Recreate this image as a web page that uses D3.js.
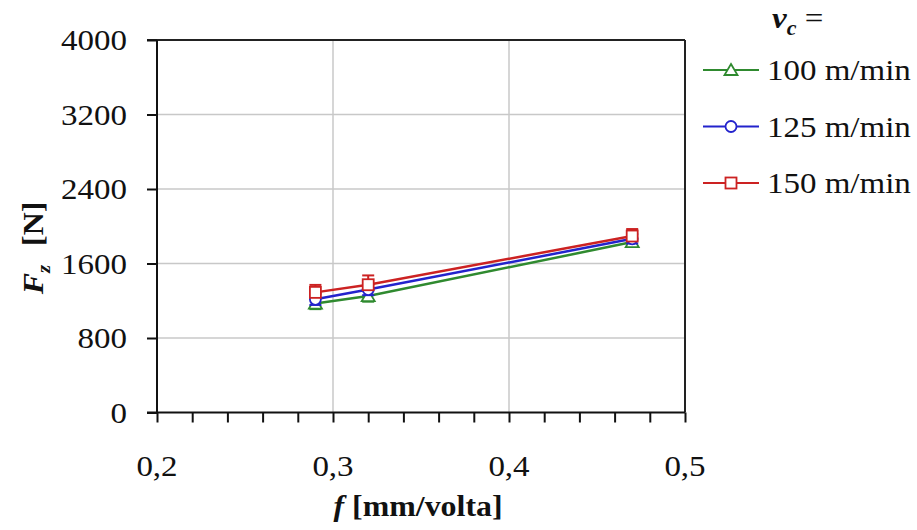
<!DOCTYPE html>
<html>
<head>
<meta charset="utf-8">
<script src="https://cdn.jsdelivr.net/npm/d3@7"></script>
<style>
  body { margin: 0; background: #fff; }
  text { font-family: 'Liberation Serif', 'DejaVu Serif', serif; }
</style>
</head>
<body>
<div id="chart"></div>
<script>
const feeds = [0.29, 0.32, 0.47];
const speedLabels = ['100 m/min', '125 m/min', '150 m/min'];
const fz100 = [1170, 1250, 1830];
const fz125 = [1215, 1320, 1865];
const fz150 = [1290, 1372, 1895];
const err100 = [60, 60, 50];
const err125 = [60, 60, 50];
const err150 = [80, 100, 75];
const xTicks = [0.2, 0.3, 0.4, 0.5];
const yTicks = [0, 800, 1600, 2400, 3200, 4000];

const FONT = "'Liberation Serif', 'DejaVu Serif', serif";
const SX = 1.1; // the original text is a little wide
const width = 917, height = 530;
const margin = { top: 40, right: 232, bottom: 117.5, left: 157 };
const innerW = width - margin.left - margin.right;
const innerH = height - margin.top - margin.bottom;

const svg = d3.select('#chart').append('svg')
  .attr('width', width)
  .attr('height', height)
  .attr('font-family', FONT);

const g = svg.append('g').attr('transform', `translate(${margin.left},${margin.top})`);

const x = d3.scaleLinear().domain([0.2, 0.5]).range([0, innerW]);
const y = d3.scaleLinear().domain([0, 4000]).range([innerH, 0]);

function at(px, py, rot) {
  return `translate(${px},${py})` + (rot ? ` rotate(${rot})` : '') + ` scale(${SX},1)`;
}

// grid
g.append('g')
  .selectAll('line')
  .data(yTicks.filter(d => d > 0 && d < 4000))
  .enter().append('line')
  .attr('x1', 0).attr('x2', innerW)
  .attr('y1', d => y(d)).attr('y2', d => y(d))
  .attr('stroke', '#c8c8c8').attr('stroke-width', 1.5);

g.append('g')
  .selectAll('line')
  .data(xTicks.filter(d => d > 0.2 && d < 0.5))
  .enter().append('line')
  .attr('x1', d => x(d)).attr('x2', d => x(d))
  .attr('y1', 0).attr('y2', innerH)
  .attr('stroke', '#c8c8c8').attr('stroke-width', 1.5);

// frame top / right
g.append('line').attr('x1', -10).attr('x2', innerW).attr('y1', 0).attr('y2', 0)
  .attr('stroke', '#222').attr('stroke-width', 2);
g.append('line').attr('x1', innerW).attr('x2', innerW).attr('y1', 0).attr('y2', innerH)
  .attr('stroke', '#222').attr('stroke-width', 2);

// axes
const xAxis = g.append('g')
  .attr('transform', `translate(0,${innerH})`)
  .call(d3.axisBottom(x).tickValues(d3.range(0, 16).map(i => 0.2 + i * 0.02)).tickSize(10).tickFormat(''));
const yAxis = g.append('g')
  .call(d3.axisLeft(y).tickValues(yTicks).tickSize(10).tickFormat(''));
[xAxis, yAxis].forEach(a => {
  a.select('.domain').attr('stroke', '#111').attr('stroke-width', 2);
  a.selectAll('.tick line').attr('stroke', '#111').attr('stroke-width', 2);
});
yAxis.select('.domain').attr('d', `M0,0V${innerH}`);
xAxis.select('.domain').attr('d', `M-10,0H${innerW}`);

// tick labels
g.selectAll('.xlab')
  .data(xTicks)
  .enter().append('text')
  .attr('class', 'xlab')
  .attr('transform', d => at(x(d), innerH + 63))
  .attr('text-anchor', 'middle')
  .attr('font-family', FONT)
  .attr('font-size', '30px')
  .attr('fill', '#111')
  .text(d => d3.format('.1f')(d).replace('.', ','));

g.selectAll('.ylab')
  .data(yTicks)
  .enter().append('text')
  .attr('class', 'ylab')
  .attr('transform', d => at(-30, y(d) + 10))
  .attr('text-anchor', 'end')
  .attr('font-family', FONT)
  .attr('font-size', '30px')
  .attr('fill', '#111')
  .text(d => d);

// axis titles
const xt = svg.append('text')
  .attr('transform', at(418, 516))
  .attr('text-anchor', 'middle')
  .attr('font-family', FONT)
  .attr('font-size', '29px')
  .attr('font-weight', 'bold')
  .attr('fill', '#111');
xt.append('tspan').attr('font-style', 'italic').text('f');
xt.append('tspan').text(' [mm/volta]');

const yt = svg.append('text')
  .attr('transform', at(43, 248, -90))
  .attr('text-anchor', 'middle')
  .attr('font-family', FONT)
  .attr('font-size', '29px')
  .attr('font-weight', 'bold')
  .attr('fill', '#111');
yt.append('tspan').attr('font-style', 'italic').text('F');
yt.append('tspan').attr('font-style', 'italic').attr('font-size', '19px').attr('dy', 7).text('z');
yt.append('tspan').attr('dy', -7).attr('dx', 10).text(' [N]');

// series
const series = [
  { name: speedLabels[0], values: fz100, err: err100, color: '#2f8a2f', marker: 'triangle', dir: -1 },
  { name: speedLabels[1], values: fz125, err: err125, color: '#2323cc', marker: 'circle', dir: 0 },
  { name: speedLabels[2], values: fz150, err: err150, color: '#cc2222', marker: 'square', dir: 1 }
];

function drawMarker(sel, type, color) {
  if (type === 'triangle') {
    sel.append('path').attr('d', 'M0,-6L6.5,5L-6.5,5Z');
  } else if (type === 'circle') {
    sel.append('circle').attr('r', 5.5);
  } else {
    sel.append('rect').attr('x', -5.5).attr('y', -5.5).attr('width', 11).attr('height', 11);
  }
  sel.selectAll('path,circle,rect')
    .attr('fill', '#fff').attr('stroke', color).attr('stroke-width', 1.8);
}

const line = d3.line().x(d => x(d[0])).y(d => y(d[1]));

series.forEach(s => {
  const pts = feeds.map((f, i) => [f, s.values[i], s.err[i]]);
  const sg = g.append('g');
  sg.append('path')
    .datum(pts)
    .attr('d', line)
    .attr('fill', 'none')
    .attr('stroke', s.color)
    .attr('stroke-width', 2.5);

  // error bars
  pts.forEach(p => {
    const cx = x(p[0]);
    const lo = s.dir > 0 ? p[1] : p[1] - p[2];
    const hi = s.dir < 0 ? p[1] : p[1] + p[2];
    const eg = sg.append('g').attr('stroke', s.color).attr('stroke-width', 2);
    eg.append('line').attr('x1', cx).attr('x2', cx).attr('y1', y(lo)).attr('y2', y(hi));
    if (s.dir >= 0) eg.append('line').attr('x1', cx - 6).attr('x2', cx + 6).attr('y1', y(hi)).attr('y2', y(hi));
    if (s.dir <= 0) eg.append('line').attr('x1', cx - 6).attr('x2', cx + 6).attr('y1', y(lo)).attr('y2', y(lo));
  });

  pts.forEach(p => {
    const m = sg.append('g').attr('transform', `translate(${x(p[0])},${y(p[1])})`);
    drawMarker(m, s.marker, s.color);
  });
});

// legend
const legend = svg.append('g');
const lt = legend.append('text')
  .attr('transform', at(772, 28))
  .attr('font-family', FONT)
  .attr('font-size', '30px')
  .attr('fill', '#111');
lt.append('tspan').attr('font-style', 'italic').attr('font-weight', 'bold').text('v');
lt.append('tspan').attr('font-style', 'italic').attr('font-weight', 'bold').attr('font-size', '20px').attr('dy', 7).text('c');
lt.append('tspan').attr('dy', -7).text(' =');

series.forEach((s, i) => {
  const ly = 70 + i * 56.5;
  const row = legend.append('g');
  row.append('line').attr('x1', 703).attr('x2', 759).attr('y1', ly).attr('y2', ly)
    .attr('stroke', s.color).attr('stroke-width', 2);
  const m = row.append('g').attr('transform', `translate(731,${ly})`);
  drawMarker(m, s.marker, s.color);
  row.append('text')
    .attr('transform', at(767, ly + 10))
    .attr('font-family', FONT)
    .attr('font-size', '30px')
    .attr('fill', '#111')
    .text(s.name);
});
</script>
</body>
</html>
